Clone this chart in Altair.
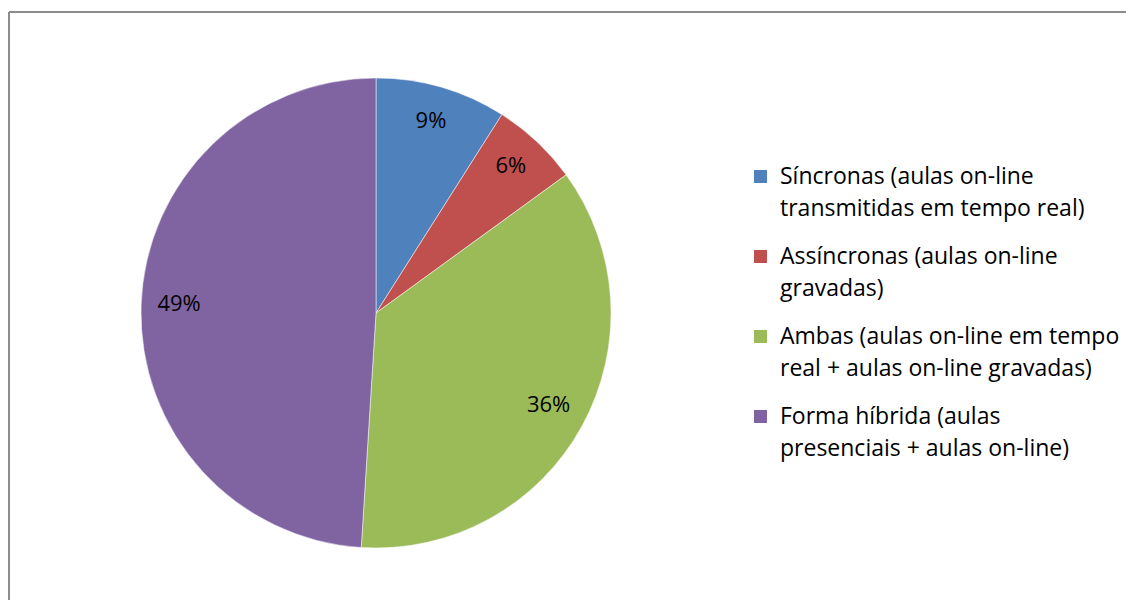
import altair as alt
import pandas as pd

categories = [
    "Síncronas (aulas on-line\ntransmitidas em tempo real)",
    "Assíncronas (aulas on-line\ngravadas)",
    "Ambas (aulas on-line em tempo\nreal + aulas on-line gravadas)",
    "Forma híbrida (aulas\npresenciais + aulas on-line)",
]
values = [9, 6, 36, 49]
labels = ["9%", "6%", "36%", "49%"]
colors = ["#4F81BD", "#C0504D", "#9BBB59", "#8064A2"]

df = pd.DataFrame({"cat": categories, "value": values, "label": labels, "order": list(range(len(values)))})

W, H = 1117, 588
CX, CY, R = 367, 301, 235
FONT = "Open Sans"

color = alt.Color(
    "cat:N",
    scale=alt.Scale(domain=categories, range=colors),
    legend=alt.Legend(
        title=None,
        orient="none",
        legendX=740,
        legendY=153,
        symbolType="square",
        symbolSize=169,
        symbolStrokeWidth=0,
        labelFont=FONT,
        labelFontSize=23,
        labelColor="#000000",
        labelLimit=500,
        labelOffset=8,
        labelBaseline="alphabetic",
        rowPadding=24,
        labelExpr="split(datum.label, '\\n')",
    ),
)

base = alt.Chart(df).encode(
    theta=alt.Theta("value:Q", stack=True),
    order=alt.Order("order:Q"),
)

pie = base.mark_arc(radius=R, stroke="white", strokeWidth=0.5).encode(
    color=color,
    x=alt.value(CX),
    y=alt.value(CY),
)

text = base.mark_text(radius=197, font=FONT, fontSize=22, color="#000000", dy=-3).encode(
    text="label:N",
    x=alt.value(CX),
    y=alt.value(CY),
)

frame_df = pd.DataFrame({"k": [0]})
top_line = alt.Chart(frame_df).mark_rule(color="#8C8C8C", strokeWidth=2).encode(
    x=alt.value(0), x2=alt.value(W + 20), y=alt.value(0)
)
left_line = alt.Chart(frame_df).mark_rule(color="#8C8C8C", strokeWidth=2).encode(
    x=alt.value(0), y=alt.value(0), y2=alt.value(H + 20)
)

chart = alt.layer(pie, text, top_line, left_line).properties(
    width=W,
    height=H,
    padding={"left": 1, "top": 4, "right": 0, "bottom": 0},
    autosize=alt.AutoSizeParams(type="none"),
).configure_view(stroke=None).configure(
    background="white",
    style={"guide-label": {"dy": 7, "lineHeight": 32}},
)

chart.save("out.html", embed_options={"renderer": "svg", "actions": False})
